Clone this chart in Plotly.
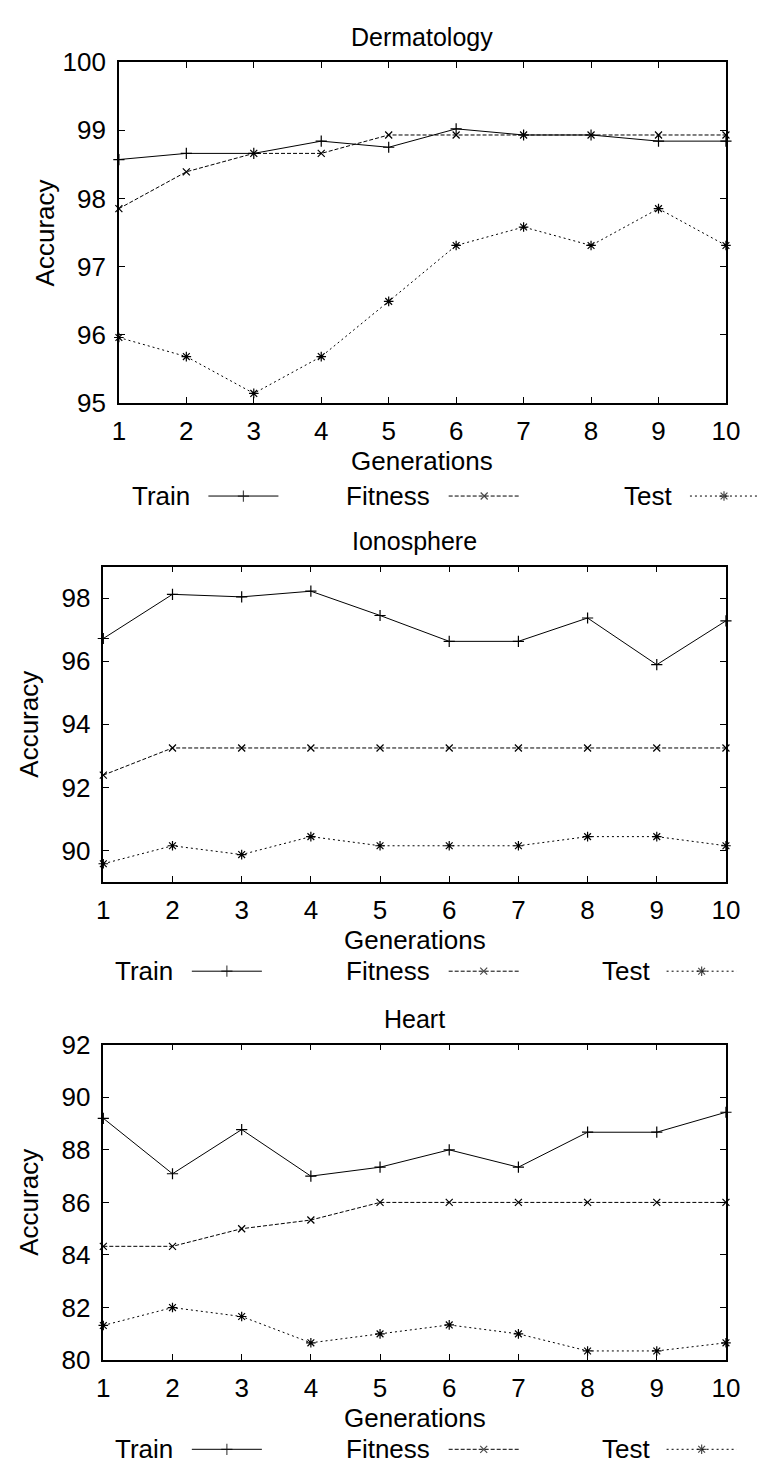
import plotly.graph_objects as go

W, H = 774, 1479

generations = [1, 2, 3, 4, 5, 6, 7, 8, 9, 10]
series_names = ["Train", "Fitness", "Test"]

derm_train = [98.57, 98.66, 98.66, 98.84, 98.75, 99.02, 98.93, 98.93, 98.84, 98.84]
derm_fitness = [97.85, 98.39, 98.66, 98.66, 98.93, 98.93, 98.93, 98.93, 98.93, 98.93]
derm_test = [95.96, 95.68, 95.14, 95.68, 96.49, 97.31, 97.58, 97.31, 97.85, 97.31]

iono_train = [96.72, 98.12, 98.04, 98.22, 97.45, 96.63, 96.63, 97.37, 95.89, 97.28]
iono_fitness = [92.39, 93.25, 93.25, 93.25, 93.25, 93.25, 93.25, 93.25, 93.25, 93.25]
iono_test = [89.58, 90.15, 89.87, 90.44, 90.15, 90.15, 90.15, 90.44, 90.44, 90.15]

heart_train = [89.2, 87.09, 88.77, 87.0, 87.34, 88.0, 87.34, 88.67, 88.67, 89.43]
heart_fitness = [84.33, 84.33, 85.0, 85.33, 86.0, 86.0, 86.0, 86.0, 86.0, 86.0]
heart_test = [81.32, 82.0, 81.66, 80.66, 81.0, 81.34, 81.0, 80.35, 80.35, 80.66]

titles = ["Dermatology", "Ionosphere", "Heart"]
y_ranges = [[95, 100], [89, 99], [80, 92]]
y_tick0 = [95, 90, 80]
y_dticks = [1, 2, 2]

FONT = "Liberation Sans, Arial, sans-serif"
TICK_SIZE = 26
LABEL_SIZE = 26
TITLE_SIZE = 25

# panel geometry in pixels: left, right, top, bottom
panels = [
    (115, 739, 48, 396),
    (99, 739, 563, 885),
    (99, 739, 1051, 1373),
]

styles = [
    dict(dash="solid", symbol="cross-thin", msize=8),
    dict(dash="4px,2px", symbol="x-thin", msize=7),
    dict(dash="2px,3px", symbol="asterisk", msize=8),
]

data = [
    [derm_train, derm_fitness, derm_test],
    [iono_train, iono_fitness, iono_test],
    [heart_train, heart_fitness, heart_test],
]

# legend positions: (text right edge, sample start, sample end) per series, and row y
legend_rows = [
    ([(190, 207, 279), (437, 454, 527), (686, 702, 772)], 491),
    ([(173, 190, 262), (437, 454, 526), (663, 678, 750)], 976),
    ([(173, 190, 262), (437, 454, 526), (663, 678, 750)], 1464),
]


def px(x):
    return x / W


def py(y):
    return 1 - y / H


fig = go.Figure()
layout = dict(
    width=W, height=H, margin=dict(l=0, r=0, t=0, b=0),
    plot_bgcolor="rgba(0,0,0,0)", paper_bgcolor="white",
    font=dict(family=FONT, color="black", size=TICK_SIZE),
    showlegend=False,
)
annotations = []

for i, (l, r, t, b) in enumerate(panels):
    xa = "x" if i == 0 else f"x{i+1}"
    ya = "y" if i == 0 else f"y{i+1}"
    xkey = "xaxis" if i == 0 else f"xaxis{i+1}"
    ykey = "yaxis" if i == 0 else f"yaxis{i+1}"
    layout[xkey] = dict(
        domain=[px(l), px(r)], anchor=ya, range=[1, 10], tickvals=generations,
        ticks="inside", ticklen=6, tickwidth=1, tickcolor="black",
        showline=True, linecolor="black", linewidth=1.5, mirror="ticks",
        showgrid=False, zeroline=False, tickfont=dict(size=TICK_SIZE),
        ticklabelstandoff=4,
    )
    layout[ykey] = dict(
        domain=[py(b), py(t)], anchor=xa, range=y_ranges[i], dtick=y_dticks[i],
        tick0=y_tick0[i], ticks="inside", ticklen=6, tickwidth=1, tickcolor="black",
        showline=True, linecolor="black", linewidth=1.5, mirror="ticks",
        showgrid=False, zeroline=False, tickfont=dict(size=TICK_SIZE),
        ticklabelstandoff=6,
    )
    for s, vals in enumerate(data[i]):
        st = styles[s]
        fig.add_trace(go.Scatter(
            x=generations, y=vals, xaxis=xa, yaxis=ya, mode="lines+markers",
            name=series_names[s], cliponaxis=False,
            line=dict(color="black", width=1, dash=st["dash"]),
            marker=dict(symbol=st["symbol"], size=st["msize"], color="black",
                        line=dict(color="black", width=1.2)),
        ))
    cx = (l + r) / 2
    annotations.append(dict(text=titles[i], x=px(cx), y=py(t - 26), xref="paper", yref="paper",
                            showarrow=False, xanchor="center", yanchor="middle",
                            font=dict(size=TITLE_SIZE)))
    annotations.append(dict(text="Generations", x=px(cx), y=py(b + 59), xref="paper", yref="paper",
                            showarrow=False, xanchor="center", yanchor="middle",
                            font=dict(size=LABEL_SIZE)))
    ax = 40 if i == 0 else 23
    annotations.append(dict(text="Accuracy", x=px(ax), y=py((t + b) / 2), xref="paper", yref="paper",
                            showarrow=False, xanchor="center", yanchor="middle", textangle=-90,
                            font=dict(size=LABEL_SIZE)))
    entries, ry = legend_rows[i]
    for s, (tr, s0, s1) in enumerate(entries):
        annotations.append(dict(text=series_names[s], x=px(tr), y=py(ry), xref="paper", yref="paper",
                                showarrow=False, xanchor="right", yanchor="middle",
                                font=dict(size=LABEL_SIZE)))
        st = styles[s]
        fig.add_trace(go.Scatter(
            x=[s0, (s0 + s1) / 2, s1], y=[ry, ry, ry], xaxis="x4", yaxis="y4",
            mode="lines+markers", cliponaxis=False, hoverinfo="skip",
            line=dict(color="black", width=1, dash=st["dash"]),
            marker=dict(symbol=st["symbol"], size=[0, st["msize"], 0], color="black",
                        line=dict(color="black", width=1.2)),
        ))

layout["xaxis4"] = dict(domain=[0, 1], range=[0, W], visible=False, anchor="y4", fixedrange=True)
layout["yaxis4"] = dict(domain=[0, 1], range=[H, 0], visible=False, anchor="x4", fixedrange=True)
layout["annotations"] = annotations
fig.update_layout(**layout)
fig.write_html("out.html", post_script="document.body.style.margin='0';document.body.style.overflow='hidden';")
